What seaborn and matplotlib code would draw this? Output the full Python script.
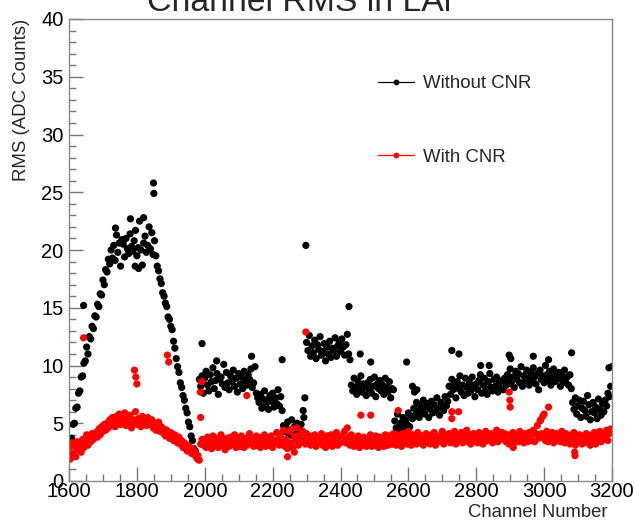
import numpy as np
import pandas as pd
import matplotlib
matplotlib.use("Agg")
import matplotlib.pyplot as plt
from matplotlib.lines import Line2D
from matplotlib.ticker import MultipleLocator
import seaborn as sns

# ---------------- data ----------------
channel_start, channel_step = 1600, 4

rms_without_cnr = [
    2.3, 3.4, 3.7, 4.9, 5.0, 6.3, 6.4, 7.6, 7.8, 9.0, 9.1, 10.2, 10.4, 11.6, 11.0, 12.5, 12.3, 13.4, 13.2, 14.3,
    14.2, 15.3, 15.1, 16.2, 16.1, 17.4, 17.0, 18.3, 18.1, 19.2, 18.8, 20.0, 19.3, 20.4, 19.1, 21.3, 19.8, 20.6, 18.6, 20.9,
    20.5, 19.4, 21.0, 20.1, 19.7, 21.4, 20.3, 19.9, 20.8, 21.7, 19.5, 20.2, 22.5, 20.0, 18.7, 20.6, 21.2, 19.8, 20.4, 22.0,
    20.1, 21.5, 19.6, 20.8, 19.5, 18.6, 18.2, 17.5, 17.1, 16.3, 16.0, 15.4, 15.1, 14.2, 14.0, 13.4, 13.1, 12.1, 11.5, 10.6,
    9.9, 9.4, 8.5, 8.1, 7.4, 7.0, 6.3, 5.9, 5.1, 4.7, 3.9, 3.5, 2.8, 2.6, 2.1, 1.9, 8.8, 8.2, 9.1, 7.6,
    8.9, 9.5, 8.3, 7.8, 9.2, 8.6, 9.8, 8.0, 8.7, 9.3, 7.5, 8.8, 9.0, 8.4, 10.1, 8.1, 9.4, 8.5, 7.9, 9.1,
    8.6, 9.6, 8.2, 8.9, 7.7, 9.3, 8.4, 9.0, 8.0, 9.5, 8.7, 8.3, 9.2, 8.8, 9.7, 8.1, 8.5, 9.9, 7.6, 7.2,
    6.8, 7.5, 6.3, 7.1, 7.8, 6.6, 7.0, 6.2, 7.4, 6.9, 7.6, 6.4, 7.2, 6.7, 7.9, 6.5, 7.3, 6.1, 4.8, 4.3,
    4.6, 5.1, 4.0, 4.4, 5.3, 3.9, 4.7, 4.2, 5.0, 4.5, 3.8, 4.9, 4.3, 5.5, 4.1, 12.0, 11.3, 12.6, 10.8, 11.7,
    11.1, 12.2, 10.6, 11.8, 11.4, 12.5, 10.9, 11.2, 11.9, 10.4, 11.6, 11.0, 12.1, 10.7, 11.5, 11.3, 12.4, 10.8, 11.7, 12.0,
    11.2, 12.3, 11.6, 10.9, 11.8, 12.7, 11.0, 10.5, 8.3, 7.8, 8.9, 8.1, 7.5, 8.6, 8.0, 9.1, 7.7, 8.4, 8.2, 7.4,
    8.5, 7.9, 8.8, 7.6, 8.2, 9.0, 7.3, 8.4, 8.0, 8.7, 7.8, 8.3, 7.5, 8.9, 8.1, 7.7, 8.6, 7.2, 8.0, 7.9,
    5.2, 4.6, 5.8, 4.3, 5.0, 4.8, 5.5, 4.4, 5.3, 4.9, 5.9, 4.7, 5.6, 5.4, 6.3, 5.7, 6.8, 6.0, 5.5, 6.5,
    6.1, 7.0, 5.8, 6.4, 6.7, 5.5, 6.2, 6.9, 5.9, 6.6, 6.0, 7.2, 6.3, 5.7, 6.8, 6.4, 6.1, 7.3, 6.5, 6.9,
    8.2, 7.5, 8.8, 7.9, 8.4, 7.2, 8.6, 8.0, 9.1, 7.7, 8.3, 7.4, 8.9, 8.1, 7.6, 8.5, 7.8, 9.0, 8.2, 7.3,
    8.4, 7.9, 8.7, 9.2, 7.6, 8.3, 8.9, 8.0, 7.5, 8.6, 9.3, 8.1, 7.8, 8.8, 8.2, 9.0, 7.7, 8.5, 8.0, 8.7,
    7.9, 8.9, 8.3, 9.2, 8.6, 9.7, 8.4, 9.0, 8.1, 9.5, 8.8, 9.3, 8.5, 9.9, 8.2, 9.1, 8.7, 9.6, 8.9, 8.3,
    9.4, 8.6, 9.8, 9.0, 8.4, 9.3, 7.9, 9.6, 8.8, 9.1, 8.5, 10.0, 9.2, 8.7, 9.5, 8.3, 9.0, 9.7, 8.6, 9.3,
    8.8, 9.4, 8.2, 9.1, 8.7, 9.6, 8.5, 9.0, 8.3, 9.2, 8.0, 6.8, 6.2, 7.2, 5.8, 6.5, 7.0, 5.5, 6.3, 6.9,
    6.1, 5.6, 7.4, 6.6, 5.3, 6.0, 6.8, 5.9, 6.4, 5.4, 7.1, 6.2, 5.7, 6.7, 6.0, 7.0, 6.5, 7.6, 7.3, 8.2,
]

rms_with_cnr = [
    2.9, 1.9, 3.3, 2.4, 3.0, 2.1, 3.4, 2.7, 3.1, 2.5, 3.6, 2.9, 3.3, 4.0, 3.1, 3.7, 3.4, 4.1, 3.6, 3.9,
    4.2, 3.8, 4.5, 4.0, 4.7, 4.3, 4.9, 4.4, 5.0, 4.6, 5.3, 4.8, 5.5, 5.0, 4.7, 5.6, 5.1, 5.8, 4.9, 5.4,
    5.2, 5.9, 4.8, 5.5, 5.0, 5.7, 4.6, 5.3, 5.1, 6.0, 4.9, 5.4, 5.2, 4.7, 5.6, 5.0, 5.3, 4.8, 5.5, 5.1,
    4.9, 5.3, 4.6, 5.0, 4.4, 4.8, 5.1, 4.3, 4.7, 4.2, 4.5, 3.9, 4.4, 4.1, 3.7, 4.2, 3.8, 3.5, 4.0, 3.6,
    3.3, 3.8, 3.2, 3.5, 2.9, 3.3, 3.0, 2.6, 3.1, 2.7, 2.4, 2.8, 2.3, 2.5, 2.0, 2.2, 1.8, 3.2, 3.6, 3.1,
    3.4, 2.9, 3.8, 3.1, 3.6, 2.8, 3.9, 3.3, 3.0, 3.7, 2.9, 3.4, 4.0, 3.2, 3.5, 2.7, 3.7, 3.3, 3.0, 3.8,
    3.2, 3.5, 4.0, 2.9, 3.4, 3.7, 3.0, 3.9, 3.3, 2.9, 3.5, 3.1, 3.8, 4.1, 3.3, 3.7, 3.0, 3.4, 3.9, 3.1,
    3.5, 2.9, 3.8, 3.3, 4.0, 3.0, 3.7, 3.4, 3.1, 3.9, 2.9, 3.5, 3.3, 4.2, 3.6, 3.1, 4.0, 3.4, 4.4, 3.0,
    3.6, 2.8, 4.3, 3.3, 4.5, 2.9, 3.9, 3.5, 4.6, 3.1, 4.0, 3.4, 4.3, 3.7, 3.2, 4.1, 3.5, 3.9, 3.1, 3.6,
    3.4, 4.0, 3.0, 3.8, 3.3, 3.5, 4.1, 3.1, 3.7, 2.9, 3.9, 3.4, 3.2, 4.0, 3.0, 3.7, 3.5, 4.2, 3.1, 3.8,
    3.3, 3.9, 3.5, 4.3, 3.3, 4.6, 3.8, 3.1, 4.0, 3.4, 3.0, 3.7, 3.3, 3.9, 2.9, 3.5, 3.1, 3.8, 3.4, 3.0,
    3.6, 3.2, 4.0, 3.0, 3.5, 3.1, 3.9, 3.4, 2.9, 3.8, 3.3, 3.7, 3.0, 4.0, 3.4, 3.1, 3.9, 3.5, 3.2, 4.1,
    3.6, 3.1, 4.0, 3.4, 3.8, 3.0, 4.1, 3.5, 3.9, 3.2, 4.3, 3.6, 3.1, 4.0, 3.5, 3.8, 3.2, 4.2, 3.6, 3.3,
    3.9, 3.1, 3.6, 4.1, 3.3, 3.8, 3.2, 4.0, 3.5, 4.2, 3.1, 3.8, 3.4, 3.9, 3.6, 4.3, 3.2, 4.0, 3.5, 3.8,
    4.1, 3.3, 3.9, 3.6, 4.3, 3.2, 4.0, 3.5, 3.8, 4.2, 3.3, 3.9, 3.6, 4.4, 3.4, 4.0, 3.2, 3.8, 4.1, 3.6,
    3.9, 3.3, 4.2, 3.6, 4.0, 3.2, 3.8, 4.3, 3.5, 3.9, 3.6, 4.1, 3.3, 4.0, 3.7, 4.4, 3.4, 3.9, 3.6, 4.2,
    3.7, 4.1, 3.4, 4.0, 3.2, 3.9, 3.6, 4.2, 3.3, 4.0, 3.7, 3.4, 4.3, 3.6, 3.9, 3.3, 4.1, 3.7, 3.4, 4.2,
    3.8, 3.5, 4.4, 3.4, 4.1, 4.8, 3.7, 5.2, 4.1, 5.6, 3.9, 3.5, 4.3, 3.4, 4.0, 3.7, 4.2, 3.3, 3.9, 4.1,
    3.6, 4.0, 3.4, 4.3, 3.7, 3.3, 4.1, 3.6, 3.9, 3.2, 4.0, 3.5, 4.2, 3.1, 3.8, 3.4, 4.0, 3.6, 3.2, 3.9,
    3.5, 4.1, 3.3, 3.8, 3.1, 4.0, 3.6, 4.2, 3.2, 3.9, 3.5, 4.3, 3.4, 3.8, 4.0, 3.6, 4.4, 3.5, 4.1, 4.5,
]

# isolated channels (outliers) read individually
extra_ch_without = [1643, 1737, 1781, 1795, 1805, 1820, 1849, 1850, 1992, 2035, 2138, 2228, 2290, 2295,
                    2298, 2425, 2458, 2489, 2595, 2612, 2618, 2625, 2728, 2749, 2813, 2838, 2897, 2902,
                    2968, 3013, 3081, 3191, 3200]
extra_rms_without = [15.2, 21.9, 22.7, 18.6, 18.4, 22.8, 25.8, 24.9, 11.9, 10.4, 10.8, 10.5, 6.1, 7.2,
                     20.4, 15.1, 11.0, 10.3, 10.3, 8.2, 7.7, 7.9, 11.3, 11.0, 10.0, 10.0, 10.9, 10.6,
                     10.8, 10.5, 11.1, 9.8, 9.9]

extra_ch_with = [1643, 1793, 1797, 1800, 1890, 1894, 1987, 1988, 1991, 2124, 2244, 2264, 2298, 2460,
                 2489, 2570, 2728, 2728, 2748, 2897, 2899, 2900, 2909, 2990, 3000, 3013, 3090, 3091]
extra_rms_with = [12.4, 9.6, 9.0, 8.4, 10.9, 10.3, 7.7, 5.5, 8.6, 7.4, 2.1, 2.5, 12.9, 5.7,
                  5.7, 6.1, 6.0, 5.4, 6.0, 7.7, 7.0, 6.4, 2.9, 5.3, 5.8, 6.4, 2.5, 2.2]

series_labels = ["Without CNR", "With CNR"]
series_colors = ["#000000", "#ff0000"]
x_ticks = [1600, 1800, 2000, 2200, 2400, 2600, 2800, 3000, 3200]
y_ticks = [0, 5, 10, 15, 20, 25, 30, 35, 40]

# ---------------- build table ----------------
ch_main = channel_start + channel_step * np.arange(len(rms_without_cnr))
df_without = pd.DataFrame({
    "channel": np.concatenate([ch_main, extra_ch_without]),
    "rms": np.concatenate([rms_without_cnr, extra_rms_without]),
    "series": series_labels[0]})
df_with = pd.DataFrame({
    "channel": np.concatenate([ch_main, extra_ch_with]),
    "rms": np.concatenate([rms_with_cnr, extra_rms_with]),
    "series": series_labels[1]})

# ---------------- plot ----------------
sns.set_theme(style="white")
plt.rcParams["font.family"] = ["Liberation Sans", "DejaVu Sans"]

fig = plt.figure(figsize=(6.34, 5.23), dpi=100)
ax = fig.add_axes([69 / 634, 1 - 481 / 523, 543 / 634, 462 / 523])

for df, col in zip([df_without, df_with], series_colors):
    sns.scatterplot(data=df, x="channel", y="rms", color=col, s=27, linewidth=0,
                    edgecolor="none", legend=False, ax=ax)

ax.set_xlim(1600, 3200)
ax.set_ylim(0, 40)
ax.set_xticks(x_ticks)
ax.set_yticks(y_ticks)
ax.xaxis.set_minor_locator(MultipleLocator(50))
ax.yaxis.set_minor_locator(MultipleLocator(1))
ax.tick_params(axis="both", which="both", direction="in", colors="#777777",
               labelcolor="black", labelsize=14.5, top=False, right=False,
               left=True, bottom=True)
ax.tick_params(axis="both", which="major", length=10, width=1)
ax.tick_params(axis="both", which="minor", length=5, width=1)
ax.tick_params(axis="x", which="major", pad=1)
ax.tick_params(axis="y", which="major", pad=4)
for sp in ax.spines.values():
    sp.set_color("#888888")
    sp.set_linewidth(1)

ax.set_xlabel("")
ax.set_ylabel("")
fig.text(607 / 634, 1 - 517 / 523, "Channel Number", ha="right", va="baseline", fontsize=13.3)
fig.text(30 / 634, 1 - 19 / 523, "RMS (ADC Counts)", ha="right", va="bottom",
         rotation=90, rotation_mode="anchor", fontsize=13.4)
fig.text(301 / 634, 1 - 11 / 523, "Channel RMS in LAr", ha="center", va="baseline", fontsize=24.3)

handles = [Line2D([], [], color=c, lw=0.9, marker="o", markersize=4.2, markeredgewidth=0)
           for c in series_colors]
leg = ax.legend(handles, series_labels, loc="upper left", frameon=False,
                bbox_to_anchor=(378 / 634, 1 - 75 / 523), bbox_transform=fig.transFigure,
                fontsize=13.4, handlelength=1.95, handletextpad=0.45,
                labelspacing=3.05, borderpad=0, borderaxespad=0)

fig.savefig("out.png", dpi=100)
